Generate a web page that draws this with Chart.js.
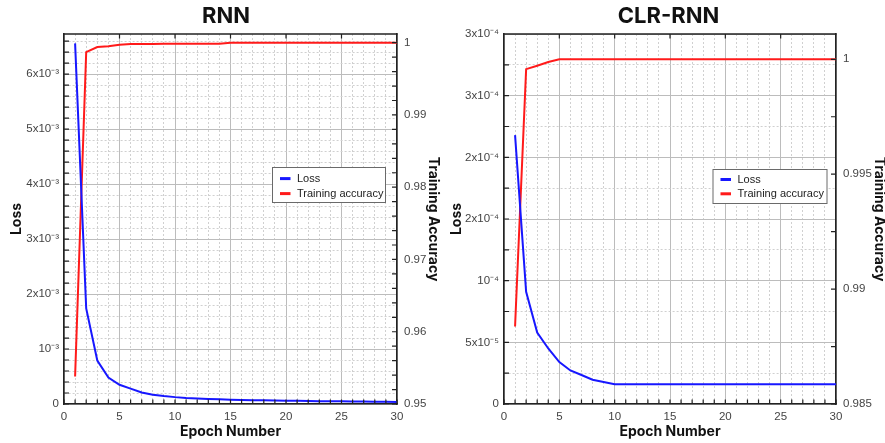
<!DOCTYPE html>
<html>
<head>
<meta charset="utf-8">
<script src="https://cdn.jsdelivr.net/npm/chart.js@4.4.1/dist/chart.umd.min.js"></script>
<style>
  body { margin: 0; background: #fff; }
  .wrap { display: flex; width: 885px; height: 443px; }
  .box { position: relative; height: 443px; }
  canvas { display: block; }
</style>
</head>
<body>
<div class="wrap">
  <div class="box" style="width:442px;"><canvas id="ch-rnn" width="442" height="443"></canvas></div>
  <div class="box" style="width:443px;"><canvas id="ch-clr" width="443" height="443"></canvas></div>
</div>
<script>
// ── Datos ────────────────────────────────────────────────────────────────────
const EPOCHS = [1, 2, 3, 4, 5, 6, 7, 8, 9, 10, 11, 12, 13, 14, 15,
                16, 17, 18, 19, 20, 21, 22, 23, 24, 25, 26, 27, 28, 29, 30];

const RNN_LOSS = [6.56e-3, 1.74e-3, 0.79e-3, 0.48e-3, 0.35e-3, 0.28e-3, 0.21e-3, 0.17e-3, 0.145e-3, 0.125e-3,
                  0.11e-3, 0.10e-3, 0.092e-3, 0.085e-3, 0.078e-3, 0.074e-3, 0.07e-3, 0.067e-3, 0.063e-3, 0.06e-3,
                  0.058e-3, 0.055e-3, 0.052e-3, 0.05e-3, 0.048e-3, 0.046e-3, 0.044e-3, 0.041e-3, 0.039e-3, 0.037e-3];
const RNN_ACC  = [0.9538, 0.9987, 0.9994, 0.9995, 0.9997, 0.9998, 0.9998, 0.9998, 0.99985, 0.99985,
                  0.99985, 0.99985, 0.99985, 0.99985, 1, 1, 1, 1, 1, 1,
                  1, 1, 1, 1, 1, 1, 1, 1, 1, 1];

const CLR_LOSS = [2.18e-4, 9.1e-5, 5.8e-5, 4.5e-5, 3.4e-5, 2.72e-5, 2.35e-5, 1.97e-5, 1.78e-5, 1.6e-5,
                  1.6e-5, 1.6e-5, 1.6e-5, 1.6e-5, 1.6e-5, 1.6e-5, 1.6e-5, 1.6e-5, 1.6e-5, 1.6e-5,
                  1.6e-5, 1.6e-5, 1.6e-5, 1.6e-5, 1.6e-5, 1.6e-5, 1.6e-5, 1.6e-5, 1.6e-5, 1.6e-5];
const CLR_ACC  = [0.98837, 0.99957, 0.99972, 0.99988, 1, 1, 1, 1, 1, 1,
                  1, 1, 1, 1, 1, 1, 1, 1, 1, 1,
                  1, 1, 1, 1, 1, 1, 1, 1, 1, 1];

// etiquetas de ejes (solo en marcas mayores)
const X_TICKS         = ['0', '5', '10', '15', '20', '25', '30'];
const RNN_LOSS_TICKS  = ['0', '10⁻³', '2x10⁻³', '3x10⁻³', '4x10⁻³', '5x10⁻³', '6x10⁻³'];
const RNN_ACC_TICKS   = ['0.95', '0.96', '0.97', '0.98', '0.99', '1'];
const CLR_LOSS_TICKS  = ['0', '5x10⁻⁵', '10⁻⁴', '2x10⁻⁴', '2x10⁻⁴', '3x10⁻⁴', '3x10⁻⁴'];
const CLR_ACC_TICKS   = ['0.985', '0.99', '0.995', '1'];

Chart.defaults.font.family = '"Liberation Sans", Arial, sans-serif';
Chart.defaults.color = '#444';

const GRID_MAJOR = '#bcbcbc';
const GRID_MINOR = '#d0d0d0';
const AXIS_COL   = '#222';
const TITLE_FONT = { family: 'Inter, "Liberation Sans", sans-serif', weight: 'bold' };

// label solo si v es múltiplo de "major" contando desde "base"
function majorLabel(labels, base, major) {
  return v => {
    const k = Math.round((v - base) / major);
    return Math.abs(v - (base + k * major)) < major * 1e-4 && labels[k] !== undefined ? labels[k] : '';
  };
}
function isMajor(v, base, major) {
  const k = Math.round((v - base) / major);
  return Math.abs(v - (base + k * major)) < major * 1e-4;
}

// marcas hacia dentro + borde superior
const frameTicks = {
  id: 'frameTicks',
  afterDatasetsDraw(chart) {
    const { ctx, chartArea: a, scales } = chart;
    ctx.save();
    ctx.strokeStyle = AXIS_COL;
    ctx.lineWidth = 1.2;
    ctx.beginPath();
    scales.x.ticks.forEach(t => {
      const px = scales.x.getPixelForValue(t.value);
      ctx.moveTo(px, a.bottom); ctx.lineTo(px, a.bottom - 4.5);
      if (t.value % 5 === 0 && t.value > 0 && t.value < 30) {
        ctx.moveTo(px, a.top); ctx.lineTo(px, a.top + 4.5);
      }
    });
    scales.y.ticks.forEach(t => {
      const py = scales.y.getPixelForValue(t.value);
      if (py < a.top + 1) return;
      ctx.moveTo(a.left, py); ctx.lineTo(a.left + 5, py);
    });
    scales.y1.ticks.forEach(t => {
      const py = scales.y1.getPixelForValue(t.value);
      if (py < a.top + 1) return;
      ctx.moveTo(a.right, py); ctx.lineTo(a.right - 5, py);
    });
    ctx.stroke();
    ctx.lineWidth = 1.6;
    ctx.beginPath();
    ctx.moveTo(a.left - 0.5, a.top); ctx.lineTo(a.right + 0.5, a.top);
    ctx.stroke();
    ctx.restore();
  }
};

// leyenda en recuadro dentro del área
const boxLegend = {
  id: 'boxLegend',
  afterDraw(chart, args, o) {
    const { ctx, chartArea: a } = chart;
    const x0 = a.right - o.right - o.width;
    const y0 = a.top + o.top;
    ctx.save();
    ctx.fillStyle = '#fff';
    ctx.fillRect(x0, y0, o.width, o.height);
    ctx.strokeStyle = '#6a6a6a';
    ctx.lineWidth = 1;
    ctx.strokeRect(x0 + 0.5, y0 + 0.5, o.width - 1, o.height - 1);
    ctx.font = '11px "Liberation Sans", Arial, sans-serif';
    ctx.textBaseline = 'middle';
    chart.data.datasets.forEach((d, i) => {
      const y = y0 + o.row0 + i * o.rowGap;
      ctx.strokeStyle = d.borderColor;
      ctx.lineWidth = 3;
      ctx.beginPath();
      ctx.moveTo(x0 + 8, y); ctx.lineTo(x0 + 18.5, y);
      ctx.stroke();
      ctx.fillStyle = '#222';
      ctx.fillText(d.label, x0 + 25, y + 0.5);
    });
    ctx.restore();
  }
};

function pts(ys) { return EPOCHS.map((e, i) => ({ x: e, y: ys[i] })); }

function makeChart(id, cfg) {
  return new Chart(document.getElementById(id), {
    type: 'line',
    data: {
      datasets: [
        { label: 'Loss', data: pts(cfg.loss), yAxisID: 'y', borderColor: '#1717ff', borderWidth: 2, pointRadius: 0, tension: 0, fill: false },
        { label: 'Training accuracy', data: pts(cfg.acc), yAxisID: 'y1', borderColor: '#ff1a1a', borderWidth: 2, pointRadius: 0, tension: 0, fill: false },
      ],
    },
    options: {
      responsive: false,
      animation: false,
      events: [],
      layout: { padding: { left: 10, right: 0, top: 0, bottom: 0 } },
      plugins: {
        legend: { display: false },
        tooltip: { enabled: false },
        title: {
          display: true, text: cfg.title, color: '#111',
          font: { ...TITLE_FONT, size: 22 },
          padding: { top: 3, bottom: 4.6 },
        },
        boxLegend: cfg.legend,
      },
      scales: {
        x: {
          type: 'linear', min: 0, max: 30,
          afterFit: s => { s.height = 39; },
          ticks: {
            stepSize: 1, autoSkip: false, maxRotation: 0, padding: 6, font: { size: 11.5 },
            callback: majorLabel(X_TICKS, 0, 5),
          },
          grid: {
            drawTicks: false,
            color: c => (c.tick && c.tick.value % 5 === 0) ? GRID_MAJOR : GRID_MINOR,
          },
          border: {
            color: AXIS_COL, width: 1.6,
            dash: c => (c.tick && c.tick.value % 5 !== 0) ? [2, 2] : [],
          },
          title: {
            display: true, text: 'Epoch Number', color: '#111',
            font: { ...TITLE_FONT, size: 14, lineHeight: 1 }, padding: { top: 0, bottom: 4 },
          },
        },
        y: {
          position: 'left', min: 0, max: cfg.lossMax,
          afterFit: s => { s.width = cfg.leftW; },
          ticks: {
            stepSize: cfg.lossStep, autoSkip: false, includeBounds: false, padding: 5, font: { size: 11.5 },
            callback: majorLabel(cfg.lossTicks, 0, cfg.lossMajor),
          },
          grid: {
            drawTicks: false,
            color: c => (c.tick && isMajor(c.tick.value, 0, cfg.lossMajor)) ? GRID_MAJOR : GRID_MINOR,
          },
          border: {
            color: AXIS_COL, width: 1.6,
            dash: c => (c.tick && !isMajor(c.tick.value, 0, cfg.lossMajor)) ? [2, 2] : [],
          },
          title: {
            display: true, text: 'Loss', color: '#111',
            font: { ...TITLE_FONT, size: 14, lineHeight: 1 }, padding: { top: cfg.lossTitlePad, bottom: 0 },
          },
        },
        y1: {
          position: 'right', min: cfg.accMin, max: cfg.accMax,
          afterFit: s => { s.width = cfg.rightW; },
          ticks: {
            stepSize: cfg.accStep, autoSkip: false, includeBounds: false, padding: 7, font: { size: 11.5 },
            callback: majorLabel(cfg.accTicks, cfg.accMin, cfg.accMajor),
          },
          grid: { drawTicks: false, drawOnChartArea: false },
          border: { color: AXIS_COL, width: 1.6 },
          title: {
            display: true, text: 'Training Accuracy', color: '#111',
            font: { ...TITLE_FONT, size: 14, lineHeight: 1 }, padding: { top: cfg.accTitlePad, bottom: 0 },
          },
        },
      },
    },
    plugins: [frameTicks, boxLegend],
  });
}

makeChart('ch-rnn', {
  title: 'RNN', loss: RNN_LOSS, acc: RNN_ACC,
  lossMax: 0.00673, lossStep: 0.0002, lossMajor: 0.001, lossTicks: RNN_LOSS_TICKS,
  accMin: 0.95, accMax: 1.0012, accStep: 0.002, accMajor: 0.01, accTicks: RNN_ACC_TICKS,
  leftW: 54, rightW: 45, lossTitlePad: 0, accTitlePad: 2,
  legend: { right: 11, top: 133, width: 114, height: 36, row0: 11.6, rowGap: 15 },
});

makeChart('ch-clr', {
  title: 'CLR-RNN', loss: CLR_LOSS, acc: CLR_ACC,
  lossMax: 0.0003, lossStep: 0.000025, lossMajor: 0.00005, lossTicks: CLR_LOSS_TICKS,
  accMin: 0.985, accMax: 1.0011, accStep: 0.0025, accMajor: 0.005, accTicks: CLR_ACC_TICKS,
  leftW: 52, rightW: 49, lossTitlePad: -2, accTitlePad: -1.3,
  legend: { right: 8.5, top: 135, width: 115, height: 35, row0: 10.5, rowGap: 14.3 },
});
</script>
</body>
</html>
